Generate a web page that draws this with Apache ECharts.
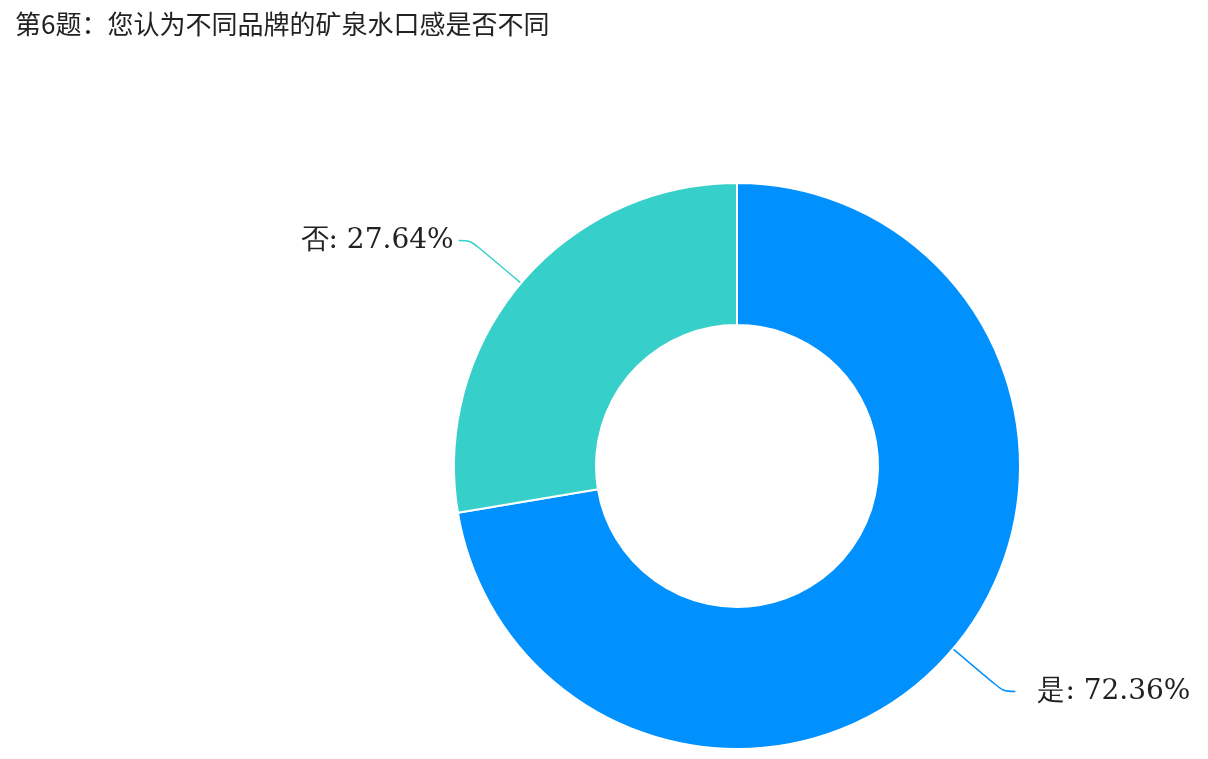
<!DOCTYPE html>
<html>
<head>
<meta charset="utf-8">
<style>
body { margin: 0; background: #fff; }
#chart { width: 1208px; height: 759px; }
</style>
<script src="https://cdn.jsdelivr.net/npm/echarts@6/dist/echarts.min.js"></script>
</head>
<body>
<div id="chart"></div>
<script>
const titleText = "第6题：您认为不同品牌的矿泉水口感是否不同";
const categories = ["是", "否"];
const values = [72.36, 27.64];
const colors = ["#0091ff", "#37cfc9"];

// small per-slice nudges so the labels sit where the reference has them
const labelPadding = [[24, 0, 0, 17], [14, 0, 0, 0]];

const chart = echarts.init(document.getElementById("chart"), null, { renderer: "canvas" });
chart.setOption({
  animation: false,
  color: colors,
  title: {
    text: titleText,
    left: 10,
    top: 6,
    textStyle: { fontFamily: "Noto Sans CJK SC", fontSize: 26, fontWeight: "normal", color: "#222" }
  },
  series: [{
    type: "pie",
    center: [737, 466],
    radius: [141, 283],
    startAngle: 90,
    clockwise: true,
    itemStyle: { borderColor: "#fff", borderWidth: 2 },
    label: {
      formatter: p => p.name + ": " + p.value.toFixed(2) + "%",
      fontFamily: "DejaVu Serif",
      fontSize: 28,
      color: "#222"
    },
    labelLine: { length: 66, length2: 12, smooth: 0.3, lineStyle: { width: 1.5 } },
    data: categories.map((c, i) => ({ name: c, value: values[i], label: { padding: labelPadding[i] } }))
  }]
});
</script>
</body>
</html>
